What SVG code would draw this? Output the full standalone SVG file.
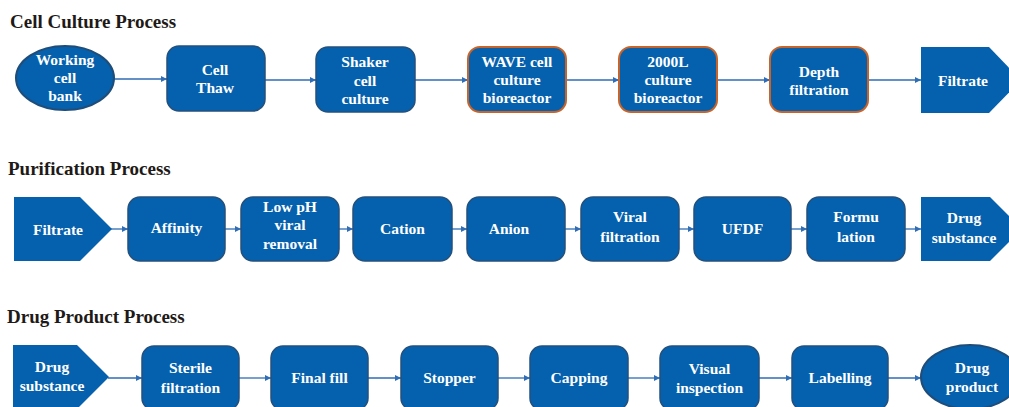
<svg xmlns="http://www.w3.org/2000/svg" width="1009" height="407" viewBox="0 0 1009 407">
<defs>
<marker id="ah" viewBox="0 0 10 10" refX="10" refY="5" markerWidth="7" markerHeight="6" markerUnits="userSpaceOnUse" orient="auto"><path d="M0,0 L10,5 L0,10 z" fill="#2f6db5"/></marker>
<style>
.title{font-family:"Liberation Serif","Times New Roman",serif;font-weight:bold;font-size:19px;fill:#1e1a17}
.box{fill:#0561ad;stroke:#24507c;stroke-width:1.5}
.obox{fill:#0561ad;stroke:#c8642a;stroke-width:2}
.pent{fill:#0561ad}
.ell{fill:#0561ad;stroke:#1f4d7a;stroke-width:2}
.t{font-family:"Liberation Serif","Times New Roman",serif;font-weight:bold;font-size:15.5px;fill:#fff;text-anchor:middle}
.c line{stroke:#2f6db5;stroke-width:1.3;marker-end:url(#ah)}
</style>
</defs>
<rect width="1009" height="407" fill="#fff"/>
<text class="title" x="10" y="28">Cell Culture Process</text>
<text class="title" x="8" y="175">Purification Process</text>
<text class="title" x="7" y="323">Drug Product Process</text>

<g class="c">
<line x1="114" y1="79" x2="167" y2="79"/>
<line x1="265" y1="80" x2="316" y2="80"/>
<line x1="415" y1="80" x2="468" y2="80"/>
<line x1="566" y1="80" x2="619" y2="80"/>
<line x1="717" y1="80" x2="770" y2="80"/>
<line x1="868" y1="80" x2="921" y2="80"/>
<line x1="110" y1="229" x2="128" y2="229"/>
<line x1="225" y1="229" x2="241" y2="229"/>
<line x1="339" y1="229" x2="353" y2="229"/>
<line x1="452" y1="229" x2="467" y2="229"/>
<line x1="565" y1="229" x2="581" y2="229"/>
<line x1="679" y1="229" x2="694" y2="229"/>
<line x1="791" y1="229" x2="807" y2="229"/>
<line x1="905" y1="229" x2="921" y2="229"/>
<line x1="108" y1="378" x2="142" y2="378"/>
<line x1="239" y1="378" x2="271" y2="378"/>
<line x1="368" y1="378" x2="401" y2="378"/>
<line x1="498" y1="378" x2="530" y2="378"/>
<line x1="628" y1="378" x2="660" y2="378"/>
<line x1="759" y1="378" x2="792" y2="378"/>
<line x1="888" y1="378" x2="921" y2="378"/>
</g>

<g id="working-cell-bank"><ellipse class="ell" cx="65" cy="78" rx="49" ry="32"/><text class="t" x="65" y="65">Working</text><text class="t" x="65" y="83">cell</text><text class="t" x="65" y="101">bank</text></g>
<g id="cell-thaw"><rect class="box" x="167" y="46" width="98" height="65" rx="12"/><text class="t" x="215" y="75">Cell</text><text class="t" x="215" y="93">Thaw</text></g>
<g id="shaker"><rect class="box" x="316" y="47" width="99" height="65" rx="12"/><text class="t" x="365" y="67">Shaker</text><text class="t" x="365" y="86">cell</text><text class="t" x="365" y="104">culture</text></g>
<g id="wave"><rect class="obox" x="468" y="47" width="98" height="65" rx="12"/><text class="t" x="517" y="67">WAVE cell</text><text class="t" x="517" y="85">culture</text><text class="t" x="517" y="103">bioreactor</text></g>
<g id="b2000l"><rect class="obox" x="619" y="47" width="98" height="65" rx="12"/><text class="t" x="668" y="67">2000L</text><text class="t" x="668" y="85">culture</text><text class="t" x="668" y="103">bioreactor</text></g>
<g id="depth"><rect class="obox" x="770" y="47" width="98" height="65" rx="12"/><text class="t" x="819" y="77">Depth</text><text class="t" x="819" y="95">filtration</text></g>
<g id="filtrate-1"><path class="pent" d="M921,47 H989 L1021,80 L989,113 H921 Z"/><text class="t" x="963" y="85.5">Filtrate</text></g>

<g id="filtrate-2"><path class="pent" d="M14,197 H80 L112,229 L80,261 H14 Z"/><text class="t" x="58" y="234.5">Filtrate</text></g>
<g id="affinity"><rect class="box" x="128" y="197" width="97" height="64" rx="12"/><text class="t" x="176.5" y="233">Affinity</text></g>
<g id="lowph"><rect class="box" x="241" y="197" width="98" height="64" rx="12"/><text class="t" x="290" y="211.5">Low pH</text><text class="t" x="290" y="230">viral</text><text class="t" x="290" y="248.5">removal</text></g>
<g id="cation"><rect class="box" x="353" y="197" width="99" height="64" rx="12"/><text class="t" x="402.5" y="234">Cation</text></g>
<g id="anion"><rect class="box" x="467" y="197" width="98" height="64" rx="12"/><text class="t" x="509" y="234">Anion</text></g>
<g id="viral"><rect class="box" x="581" y="197" width="98" height="64" rx="12"/><text class="t" x="630" y="222">Viral</text><text class="t" x="630" y="242">filtration</text></g>
<g id="ufdf"><rect class="box" x="694" y="197" width="97" height="64" rx="12"/><text class="t" x="742.5" y="234">UFDF</text></g>
<g id="formulation"><rect class="box" x="807" y="197" width="98" height="64" rx="12"/><text class="t" x="856" y="222">Formu</text><text class="t" x="856" y="242">lation</text></g>
<g id="drug-substance-2"><path class="pent" d="M921,197 H990 L1022,229 L990,261 H921 Z"/><text class="t" x="964" y="223">Drug</text><text class="t" x="964" y="243">substance</text></g>

<g id="drug-substance-3"><path class="pent" d="M13,345 H77 L109,377 L77,409 H13 Z"/><text class="t" x="52" y="372">Drug</text><text class="t" x="52" y="390.5">substance</text></g>
<g id="sterile"><rect class="box" x="142" y="346" width="97" height="64" rx="12"/><text class="t" x="190.5" y="373">Sterile</text><text class="t" x="190.5" y="392.5">filtration</text></g>
<g id="final-fill"><rect class="box" x="271" y="346" width="97" height="64" rx="12"/><text class="t" x="319.5" y="382.5">Final fill</text></g>
<g id="stopper"><rect class="box" x="401" y="346" width="97" height="64" rx="12"/><text class="t" x="449.5" y="382.5">Stopper</text></g>
<g id="capping"><rect class="box" x="530" y="346" width="98" height="64" rx="12"/><text class="t" x="579" y="382.5">Capping</text></g>
<g id="visual"><rect class="box" x="660" y="346" width="99" height="64" rx="12"/><text class="t" x="709.5" y="374">Visual</text><text class="t" x="709.5" y="393">inspection</text></g>
<g id="labelling"><rect class="box" x="792" y="346" width="96" height="64" rx="12"/><text class="t" x="840" y="382.5">Labelling</text></g>
<g id="drug-product"><ellipse class="ell" cx="970" cy="377" rx="49" ry="32"/><text class="t" x="972" y="373">Drug</text><text class="t" x="972" y="392">product</text></g>
</svg>
